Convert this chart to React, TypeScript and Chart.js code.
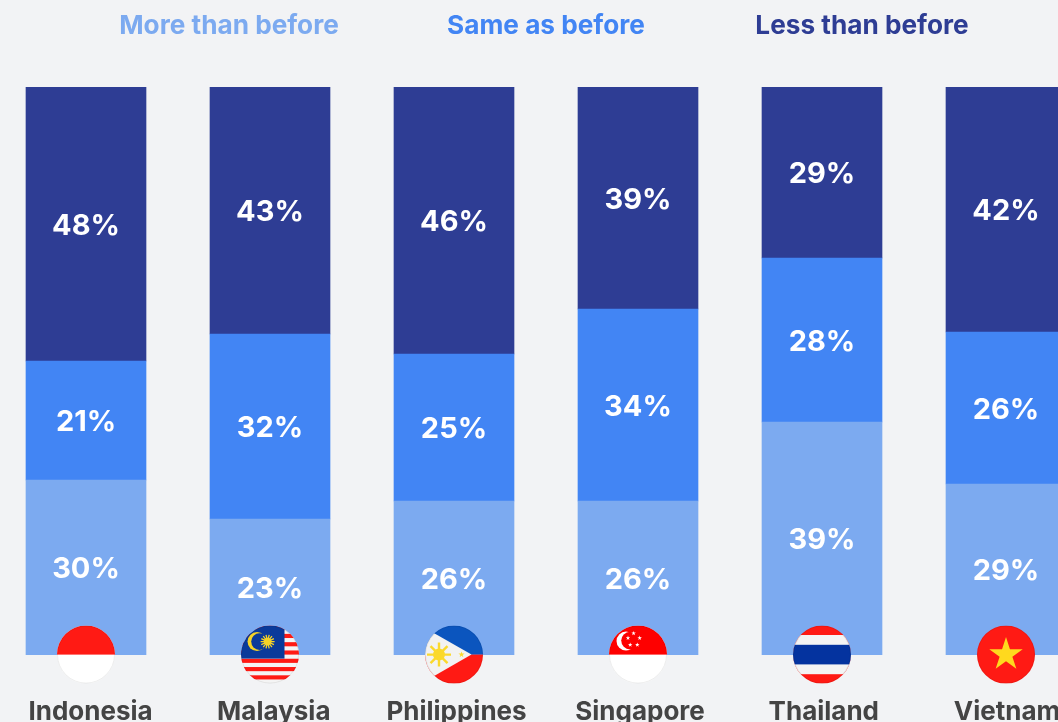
import React, { useEffect, useRef } from "react";
import { Chart, registerables } from "chart.js";

Chart.register(...registerables);

const countries = ["Indonesia", "Malaysia", "Philippines", "Singapore", "Thailand", "Vietnam"];
const seriesNames = ["More than before", "Same as before", "Less than before"];
// Segment shares
const moreShare = [30.81, 23.94, 27.11, 27.11, 41.02, 30.11];
const sameShare = [20.95, 32.57, 25.88, 33.8, 28.87, 26.76];
const lessShare = [48.24, 43.49, 47.01, 39.09, 30.11, 43.13];
// Percentages as printed on the bars
const moreLabels = [30, 23, 26, 26, 39, 29];
const sameLabels = [21, 32, 25, 34, 28, 26];
const lessLabels = [48, 43, 46, 39, 29, 42];

const LIGHT = "#7caaf0";
const MID = "#4285f4";
const DARK = "#2e3d94";
const BG = "#f2f3f5";
const FONT = "Inter, 'Noto Sans', sans-serif";
const LEFT_SHIFT = 6;
const TICK_SHIFT = [4.5, 3.8, 2.5, 2, 1.8, 1];
const LEGEND_X = [229, 546, 862];

function star(c: CanvasRenderingContext2D, x: number, y: number, r: number, color: string) {
  c.fillStyle = color;
  c.beginPath();
  for (let i = 0; i < 10; i++) {
    const rad = i % 2 ? r * 0.382 : r;
    const a = -Math.PI / 2 + (i * Math.PI) / 5;
    c.lineTo(x + rad * Math.cos(a), y + rad * Math.sin(a));
  }
  c.closePath();
  c.fill();
}

function sun(c: CanvasRenderingContext2D, x: number, y: number, r: number, rayR: number, n: number, color: string, ray = 1.3) {
  c.fillStyle = color;
  c.beginPath();
  c.arc(x, y, r, 0, Math.PI * 2);
  c.fill();
  c.strokeStyle = color;
  c.lineWidth = ray;
  for (let i = 0; i < n; i++) {
    const a = (i * 2 * Math.PI) / n;
    c.beginPath();
    c.moveTo(x, y);
    c.lineTo(x + rayR * Math.cos(a), y + rayR * Math.sin(a));
    c.stroke();
  }
}

const R = 29;
const RED = "#ff1a14";
const flags: ((c: CanvasRenderingContext2D) => void)[] = [
  (c) => {
    c.fillStyle = "#fff";
    c.fillRect(-R, -R, 2 * R, 2 * R);
    c.fillStyle = RED;
    c.fillRect(-R, -R, 2 * R, R);
  },
  (c) => {
    c.fillStyle = "#f4f4f4";
    c.fillRect(-R, -R, 2 * R, 2 * R);
    c.fillStyle = RED;
    const h = (2 * R) / 14;
    for (let i = 0; i < 14; i += 2) c.fillRect(-R, -R + i * h, 2 * R, h);
    c.fillStyle = "#0a3a9a";
    c.fillRect(-R, -R, R + 14.5, R + 4);
    c.fillStyle = "#f5d327";
    c.beginPath();
    c.arc(-13, -13, 9.5, 0, Math.PI * 2);
    c.fill();
    c.fillStyle = "#0a3a9a";
    c.beginPath();
    c.arc(-10.5, -13, 8.3, 0, Math.PI * 2);
    c.fill();
    sun(c, -2.4, -13, 3.8, 7, 14, "#f5d327");
  },
  (c) => {
    c.fillStyle = "#0b55be";
    c.fillRect(-R, -R, 2 * R, R);
    c.fillStyle = RED;
    c.fillRect(-R, 0, 2 * R, R);
    c.fillStyle = "#f2f2f2";
    c.beginPath();
    c.moveTo(17.5, 0);
    c.lineTo(-35, -30);
    c.lineTo(-35, 30);
    c.closePath();
    c.fill();
    sun(c, -15, 0, 6, 12, 8, "#fbd92c", 2.4);
    star(c, 7.5, 0, 3.2, "#fbd92c");
  },
  (c) => {
    c.fillStyle = "#fff";
    c.fillRect(-R, -R, 2 * R, 2 * R);
    c.fillStyle = "#fe0000";
    c.fillRect(-R, -R, 2 * R, R);
    c.fillStyle = "#fff";
    c.beginPath();
    c.arc(-12, -13.5, 9.5, 0, Math.PI * 2);
    c.fill();
    c.fillStyle = "#fe0000";
    c.beginPath();
    c.arc(-8, -14, 8.8, 0, Math.PI * 2);
    c.fill();
    [[-4.4, -21.3], [1.7, -16.6], [-0.7, -9.8], [-7.8, -9.8], [-10, -16.6]].forEach(([x, y]) => star(c, x, y, 2.4, "#fff"));
  },
  (c) => {
    c.fillStyle = RED;
    c.fillRect(-R, -R, 2 * R, 2 * R);
    c.fillStyle = "#f4f4f4";
    c.fillRect(-R, -19.6, 2 * R, 39.2);
    c.fillStyle = "#04339f";
    c.fillRect(-R, -9.8, 2 * R, 19.6);
  },
  (c) => {
    c.fillStyle = RED;
    c.fillRect(-R, -R, 2 * R, 2 * R);
    star(c, 0, 0, 17.6, "#ffd91e");
  },
];

const labelPlugin = {
  id: "segmentLabels",
  afterDatasetsDraw(chart: any) {
    const c = chart.ctx;
    const printed = [moreLabels, sameLabels, lessLabels];
    c.save();
    c.font = `700 29px ${FONT}`;
    c.fillStyle = "#fff";
    c.textAlign = "center";
    c.textBaseline = "middle";
    printed.forEach((vals, d) => {
      chart.getDatasetMeta(d).data.forEach((b: any, i: number) => {
        c.fillText(`${vals[i]}%`, b.x, (b.y + b.base) / 2 + 2);
      });
    });
    c.restore();
  },
};

const flagPlugin = {
  id: "flags",
  afterDraw(chart: any) {
    const c = chart.ctx;
    const xs = chart.scales.x;
    const y = chart.scales.y.getPixelForValue(0) - 0.4;
    countries.forEach((_, i) => {
      const x = xs.getPixelForValue(i);
      c.save();
      c.translate(x, y);
      c.beginPath();
      c.arc(0, 0, R, 0, Math.PI * 2);
      c.clip();
      flags[i](c);
      c.restore();
      c.save();
      c.strokeStyle = "rgba(0,0,0,0.07)";
      c.lineWidth = 1;
      c.beginPath();
      c.arc(x, y, R - 0.5, 0, Math.PI * 2);
      c.stroke();
      c.restore();
    });
  },
};

const legendPlugin = {
  id: "topLegend",
  afterDraw(chart: any) {
    const c = chart.ctx;
    c.save();
    c.font = `700 26.2px ${FONT}`;
    c.textAlign = "center";
    c.textBaseline = "middle";
    chart.data.datasets.forEach((ds: any, i: number) => {
      c.fillStyle = ds.backgroundColor;
      c.fillText(ds.label, LEGEND_X[i] + LEFT_SHIFT, 26.5);
    });
    c.restore();
  },
};

export default function App() {
  const ref = useRef<HTMLCanvasElement>(null);
  useEffect(() => {
    const chart = new Chart(ref.current!, {
      type: "bar",
      data: {
        labels: countries,
        datasets: [
          { label: seriesNames[0], data: moreShare, backgroundColor: LIGHT },
          { label: seriesNames[1], data: sameShare, backgroundColor: MID },
          { label: seriesNames[2], data: lessShare, backgroundColor: DARK },
        ],
      },
      options: {
        responsive: false,
        animation: false,
        devicePixelRatio: 1,
        layout: { padding: { top: 87, left: 0, right: 0, bottom: 0 } },
        plugins: { legend: { display: false }, tooltip: { enabled: false } },
        datasets: { bar: { barThickness: 120, borderWidth: 0 } },
        scales: {
          x: {
            stacked: true,
            grid: { display: false },
            border: { display: false },
            ticks: {
              autoSkip: false,
              maxRotation: 0,
              minRotation: 0,
              padding: 34,
              color: "#444444",
              font: { family: FONT, size: 26, weight: "700" },
            },
            afterFit(scale: any) {
              scale.height = 67;
              scale.paddingLeft = 0;
              scale.paddingRight = 0;
            },
            afterUpdate(scale: any) {
              const base = scale.getPixelForTick;
              scale.getPixelForTick = (i: number) => base.call(scale, i) + (TICK_SHIFT[i] || 0);
            },
          },
          y: { stacked: true, display: false, min: 0, max: 100 },
        },
      },
      plugins: [labelPlugin, flagPlugin, legendPlugin],
    } as any);
    return () => chart.destroy();
  }, []);
  return (
    <div style={{ position: "fixed", inset: 0, overflow: "hidden", background: BG }}>
      <canvas
        ref={ref}
        width={1104}
        height={722}
        style={{ position: "absolute", left: -LEFT_SHIFT, top: 0, display: "block" }}
      />
    </div>
  );
}
